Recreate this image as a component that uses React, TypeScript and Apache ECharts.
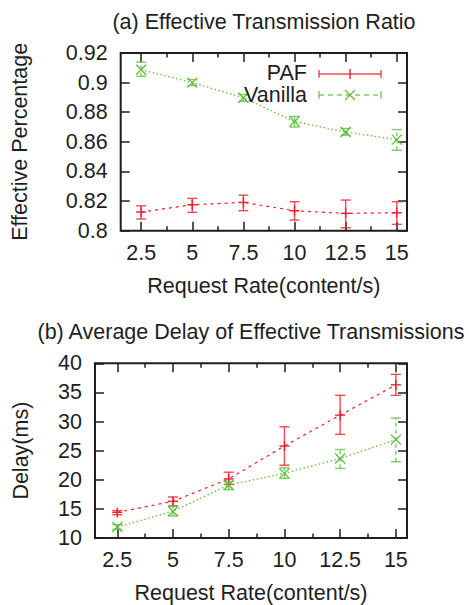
import React, { useEffect, useRef } from 'react';
import * as echarts from 'echarts';

const rates = [2.5, 5, 7.5, 10, 12.5, 15];
const minorRates = [3.75, 6.25, 8.75, 11.25, 13.75];

const ratioPAF = [0.8126, 0.8175, 0.8191, 0.8135, 0.8117, 0.8121];
const ratioPAFLow = [0.8079, 0.8124, 0.8135, 0.8072, 0.802, 0.8043];
const ratioPAFHigh = [0.8168, 0.8218, 0.824, 0.8196, 0.8207, 0.8196];
const ratioVan = [0.9087, 0.9, 0.8898, 0.8737, 0.8667, 0.8615];
const ratioVanLow = [0.9042, 0.898, 0.8873, 0.87, 0.8645, 0.8543];
const ratioVanHigh = [0.9138, 0.902, 0.892, 0.8772, 0.869, 0.8683];

const delayPAF = [14.4, 16.3, 20.15, 25.8, 31.1, 36.3];
const delayPAFLow = [14.0, 15.5, 19.2, 22.5, 27.8, 34.5];
const delayPAFHigh = [14.7, 17.05, 21.3, 29.1, 34.5, 38.1];
const delayVan = [11.9, 14.6, 19.1, 21.1, 23.65, 26.9];
const delayVanLow = [11.5, 13.8, 18.3, 20.25, 21.95, 23.1];
const delayVanHigh = [12.3, 15.5, 19.7, 22.05, 25.2, 30.6];

const RED = '#f0202c';
const RED_ERR = 'rgba(238,30,40,0.8)';
const GREEN = '#5cbf3c';
const GREEN_ERR = 'rgba(96,190,64,0.8)';
const INK = '#1e1e1e';
const FONT = '"Liberation Sans", Arial, sans-serif';
const FS = 21.5;

const rows = (v: number[], lo: number[], hi: number[]) =>
  rates.map((x, i) => [x, v[i], lo[i], hi[i]]);
const linePts = (v: number[]) => rates.map((x, i) => [x, v[i]]);

function errRender(kind: 'plus' | 'x') {
  return (params: any, api: any) => {
    const x = api.value(0);
    const c = api.coord([x, api.value(1)]);
    const pl = api.coord([x, api.value(2)]);
    const ph = api.coord([x, api.value(3)]);
    const cw = 5;
    const stroke = kind === 'plus' ? RED_ERR : GREEN_ERR;
    const eStyle: any = { stroke, lineWidth: 1.4, fill: 'none' };
    if (kind === 'x') eStyle.lineDash = [4, 3];
    const capStyle = { stroke, lineWidth: 1.4 };
    const mStroke = kind === 'plus' ? RED : GREEN;
    const m = 5;
    const children: any[] = [
      { type: 'line', shape: { x1: pl[0], y1: pl[1], x2: ph[0], y2: ph[1] }, style: eStyle },
      { type: 'line', shape: { x1: pl[0] - cw, y1: pl[1], x2: pl[0] + cw, y2: pl[1] }, style: capStyle },
      { type: 'line', shape: { x1: ph[0] - cw, y1: ph[1], x2: ph[0] + cw, y2: ph[1] }, style: capStyle },
    ];
    if (kind === 'plus') {
      children.push(
        { type: 'line', shape: { x1: c[0] - m, y1: c[1], x2: c[0] + m, y2: c[1] }, style: { stroke: mStroke, lineWidth: 1.4 } },
        { type: 'line', shape: { x1: c[0], y1: c[1] - m, x2: c[0], y2: c[1] + m }, style: { stroke: mStroke, lineWidth: 1.4 } }
      );
    } else {
      children.push(
        { type: 'line', shape: { x1: c[0] - m, y1: c[1] - m, x2: c[0] + m, y2: c[1] + m }, style: { stroke: mStroke, lineWidth: 1.3 } },
        { type: 'line', shape: { x1: c[0] - m, y1: c[1] + m, x2: c[0] + m, y2: c[1] - m }, style: { stroke: mStroke, lineWidth: 1.3 } }
      );
    }
    return { type: 'group', children };
  };
}

function xAxes(gridIndex: number) {
  const base = {
    type: 'value',
    gridIndex,
    min: 1.5,
    max: 15.5,
    axisLine: { show: false },
    splitLine: { show: false },
  };
  const tickStyle = { color: INK, width: 1.5 };
  return [
    {
      ...base,
      position: 'bottom',
      name: 'Request Rate(content/s)',
      nameLocation: 'middle',
      nameGap: 44,
      nameTextStyle: { fontSize: FS, fontFamily: FONT, color: INK },
      axisTick: { show: true, inside: true, length: 9, customValues: rates, lineStyle: tickStyle },
      axisLabel: { show: true, customValues: rates, margin: 11, fontSize: FS, fontFamily: FONT, color: INK, formatter: (v: number) => String(v) },
    },
    {
      ...base,
      position: 'bottom',
      axisTick: { show: true, inside: true, length: 4.5, customValues: minorRates, lineStyle: tickStyle },
      axisLabel: { show: false },
    },
    {
      ...base,
      position: 'top',
      axisTick: { show: true, inside: true, length: 9, customValues: rates, lineStyle: tickStyle },
      axisLabel: { show: false },
    },
    {
      ...base,
      position: 'top',
      axisTick: { show: true, inside: true, length: 4.5, customValues: minorRates, lineStyle: tickStyle },
      axisLabel: { show: false },
    },
  ];
}

function yAxes(gridIndex: number, min: number, max: number, interval: number, name: string, nameGap: number, fmt: (v: number) => string) {
  const tickStyle = { color: INK, width: 1.5 };
  const base = {
    type: 'value',
    gridIndex,
    min,
    max,
    interval,
    axisLine: { show: false },
    splitLine: { show: false },
  };
  return [
    {
      ...base,
      position: 'left',
      name,
      nameLocation: 'middle',
      nameGap,
      nameTextStyle: { fontSize: FS, fontFamily: FONT, color: INK },
      axisTick: { show: true, inside: true, length: 9, lineStyle: tickStyle },
      axisLabel: { show: true, margin: 13, fontSize: FS, fontFamily: FONT, color: INK, formatter: fmt },
    },
    {
      ...base,
      position: 'right',
      axisTick: { show: true, inside: true, length: 9, lineStyle: tickStyle },
      axisLabel: { show: false },
    },
  ];
}

export default function App() {
  const ref = useRef<HTMLDivElement>(null);
  useEffect(() => {
    if (!ref.current) return;
    const chart = echarts.init(ref.current, undefined, { renderer: 'svg' });
    const titleStyle = (text: string) => ({ text, fontSize: FS, fontFamily: FONT, fill: INK, align: 'center', verticalAlign: 'middle' });
    const legendText = (text: string) => ({ text, fontSize: FS, fontFamily: FONT, fill: INK, align: 'right', verticalAlign: 'middle', lineHeight: 20 });
    const option: any = {
      animation: false,
      backgroundColor: '#ffffff',
      grid: [
        { left: 120.7, top: 53, width: 286.3, height: 177.7, show: true, borderColor: INK, borderWidth: 2, backgroundColor: 'transparent' },
        { left: 95, top: 363.3, width: 312, height: 177.4, show: true, borderColor: INK, borderWidth: 2, backgroundColor: 'transparent' },
      ],
      xAxis: [...xAxes(0), ...xAxes(1)],
      yAxis: [
        ...yAxes(0, 0.8, 0.92, 0.02, 'Effective Percentage', 90, (v: number) => String(parseFloat(v.toFixed(2)))),
        ...yAxes(1, 10, 40, 5, 'Delay(ms)', 63, (v: number) => String(Math.round(v))),
      ],
      series: [
        { type: 'line', xAxisIndex: 0, yAxisIndex: 0, data: linePts(ratioPAF), showSymbol: false, lineStyle: { color: RED, width: 1.2, type: [3, 4] }, z: 2 },
        { type: 'line', xAxisIndex: 0, yAxisIndex: 0, data: linePts(ratioVan), showSymbol: false, lineStyle: { color: GREEN, width: 1.3, type: [1.5, 2.5] }, z: 2 },
        { type: 'custom', xAxisIndex: 0, yAxisIndex: 0, data: rows(ratioPAF, ratioPAFLow, ratioPAFHigh), renderItem: errRender('plus'), z: 3 },
        { type: 'custom', xAxisIndex: 0, yAxisIndex: 0, data: rows(ratioVan, ratioVanLow, ratioVanHigh), renderItem: errRender('x'), z: 3 },
        { type: 'line', xAxisIndex: 4, yAxisIndex: 2, data: linePts(delayPAF), showSymbol: false, lineStyle: { color: RED, width: 1.2, type: [3, 4] }, z: 2 },
        { type: 'line', xAxisIndex: 4, yAxisIndex: 2, data: linePts(delayVan), showSymbol: false, lineStyle: { color: GREEN, width: 1.3, type: [1.5, 2.5] }, z: 2 },
        { type: 'custom', xAxisIndex: 4, yAxisIndex: 2, data: rows(delayPAF, delayPAFLow, delayPAFHigh), renderItem: errRender('plus'), z: 3 },
        { type: 'custom', xAxisIndex: 4, yAxisIndex: 2, data: rows(delayVan, delayVanLow, delayVanHigh), renderItem: errRender('x'), z: 3 },
      ],
      graphic: [
        { type: 'text', x: 264, y: 22, style: titleStyle('(a) Effective Transmission Ratio') },
        { type: 'text', x: 251, y: 332, style: titleStyle('(b) Average Delay of Effective Transmissions') },
        { type: 'text', x: 307, y: 73, style: legendText('PAF'), z: 10 },
        { type: 'text', x: 307, y: 95, style: legendText('Vanilla'), z: 10 },
        { type: 'line', shape: { x1: 319, y1: 74, x2: 381, y2: 74 }, style: { stroke: RED_ERR, lineWidth: 1.4 }, z: 10 },
        { type: 'line', shape: { x1: 319, y1: 70, x2: 319, y2: 78 }, style: { stroke: RED_ERR, lineWidth: 1.4 }, z: 10 },
        { type: 'line', shape: { x1: 381, y1: 70, x2: 381, y2: 78 }, style: { stroke: RED_ERR, lineWidth: 1.4 }, z: 10 },
        { type: 'line', shape: { x1: 350, y1: 69, x2: 350, y2: 79 }, style: { stroke: RED, lineWidth: 1.4 }, z: 10 },
        { type: 'line', shape: { x1: 319, y1: 95, x2: 381, y2: 95 }, style: { stroke: GREEN_ERR, lineWidth: 1.4, lineDash: [5, 4] }, z: 10 },
        { type: 'line', shape: { x1: 319, y1: 91, x2: 319, y2: 99 }, style: { stroke: GREEN_ERR, lineWidth: 1.4 }, z: 10 },
        { type: 'line', shape: { x1: 381, y1: 91, x2: 381, y2: 99 }, style: { stroke: GREEN_ERR, lineWidth: 1.4 }, z: 10 },
        { type: 'line', shape: { x1: 345, y1: 90, x2: 355, y2: 100 }, style: { stroke: GREEN, lineWidth: 1.3 }, z: 10 },
        { type: 'line', shape: { x1: 345, y1: 100, x2: 355, y2: 90 }, style: { stroke: GREEN, lineWidth: 1.3 }, z: 10 },
      ],
    };
    chart.setOption(option);
    return () => chart.dispose();
  }, []);
  return <div ref={ref} style={{ position: 'fixed', left: 0, top: 0, width: 469, height: 605 }} />;
}
